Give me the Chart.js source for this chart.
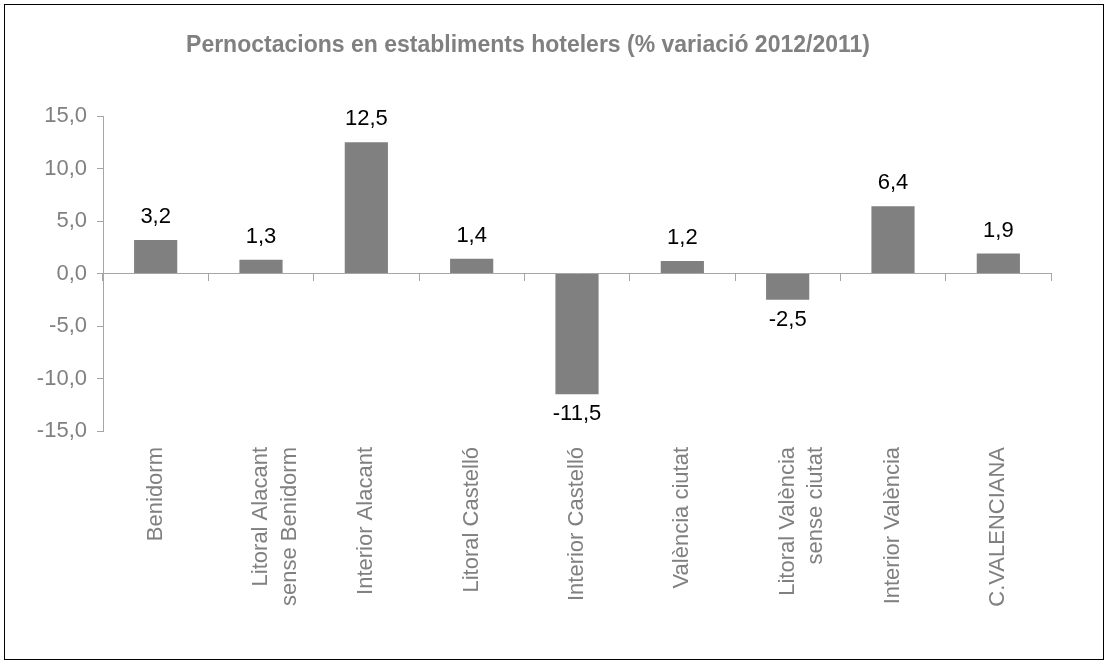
<!DOCTYPE html>
<html>
<head>
<meta charset="utf-8">
<script src="https://cdn.jsdelivr.net/npm/chart.js@4.4.0/dist/chart.umd.min.js"></script>
<style>
  body { margin: 0; background: #fff; }
  #box {
    position: absolute; left: 4px; top: 4px;
    width: 1098px; height: 654px;
    border: 1px solid #000;
  }
</style>
</head>
<body>
<div id="box"><canvas id="chart"></canvas></div>
<script>
const categories = [
  'Benidorm',
  ['Litoral Alacant', 'sense Benidorm'],
  'Interior Alacant',
  'Litoral Castelló',
  'Interior Castelló',
  'València ciutat',
  ['Litoral València', 'sense ciutat'],
  'Interior València',
  'C.VALENCIANA'
]
const values = [3.2, 1.3, 12.5, 1.4, -11.5, 1.2, -2.5, 6.4, 1.9]
const yTicks = [-15, -10, -5, 0, 5, 10, 15]

const FONT = "'Liberation Sans', Arial, sans-serif"
const GREY = '#808080'
const AXIS = '#a6a6a6'

const comma = v => v.toFixed(1).replace('.', ',')

// value labels above / below each bar
const valueLabels = {
  id: 'valueLabels',
  afterDatasetsDraw(chart){
    const ctx = chart.ctx
    const meta = chart.getDatasetMeta(0)
    ctx.save()
    ctx.font = '22px ' + FONT
    ctx.fillStyle = '#000'
    ctx.textAlign = 'center'
    meta.data.forEach((bar, i) => {
      const v = values[i]
      if (v >= 0){
        ctx.textBaseline = 'alphabetic'
        ctx.fillText(comma(v), bar.x, bar.y - 17)
      } else {
        ctx.textBaseline = 'top'
        ctx.fillText(comma(v), bar.x, bar.y + 9)
      }
    })
    ctx.restore()
  }
}

new Chart(document.getElementById('chart'), {
  type: 'bar',
  data: {
    labels: categories,
    datasets: [{
      data: values,
      backgroundColor: GREY,
      barPercentage: 0.41,
      categoryPercentage: 1,
      xAxisID: 'x',
      yAxisID: 'y'
    }]
  },
  options: {
    responsive: true,
    maintainAspectRatio: false,
    animation: false,
    layout: { padding: { left: 0, right: 52, top: 0, bottom: 0 } },
    plugins: {
      legend: { display: false },
      tooltip: { enabled: false },
      title: {
        display: true,
        text: 'Pernoctacions en establiments hotelers (% variació 2012/2011)',
        color: GREY,
        font: { family: FONT, size: 23, weight: 'bold', lineHeight: 1.2 },
        padding: { top: 27, bottom: 56.4 }
      }
    },
    scales: {
      x: {
        type: 'category',
        position: { y: 0 },
        offset: true,
        border: { display: true, color: AXIS, width: 1 },
        grid: { offset: true, drawOnChartArea: false, drawTicks: true, tickLength: 7, color: AXIS },
        ticks: { display: false }
      },
      x2: {
        type: 'category',
        position: 'bottom',
        offset: true,
        labels: categories,
        border: { display: false },
        grid: { display: false, drawTicks: false },
        ticks: {
          autoSkip: false,
          minRotation: 90,
          maxRotation: 90,
          padding: 16,
          color: GREY,
          font: { family: FONT, size: 22, lineHeight: 1.3 }
        },
        afterFit(scale){ scale.height = 228 }
      },
      y: {
        min: -15,
        max: 15,
        position: 'left',
        afterBuildTicks(scale){ scale.ticks = yTicks.map(v => ({ value: v })) },
        border: { display: true, color: AXIS, width: 1 },
        grid: { drawOnChartArea: false, drawTicks: true, tickLength: 6, color: AXIS },
        ticks: {
          padding: 10,
          color: GREY,
          font: { family: FONT, size: 22 },
          callback: v => comma(v)
        },
        afterFit(scale){ scale.width = 98 }
      }
    }
  },
  plugins: [valueLabels]
})
</script>
</body>
</html>
